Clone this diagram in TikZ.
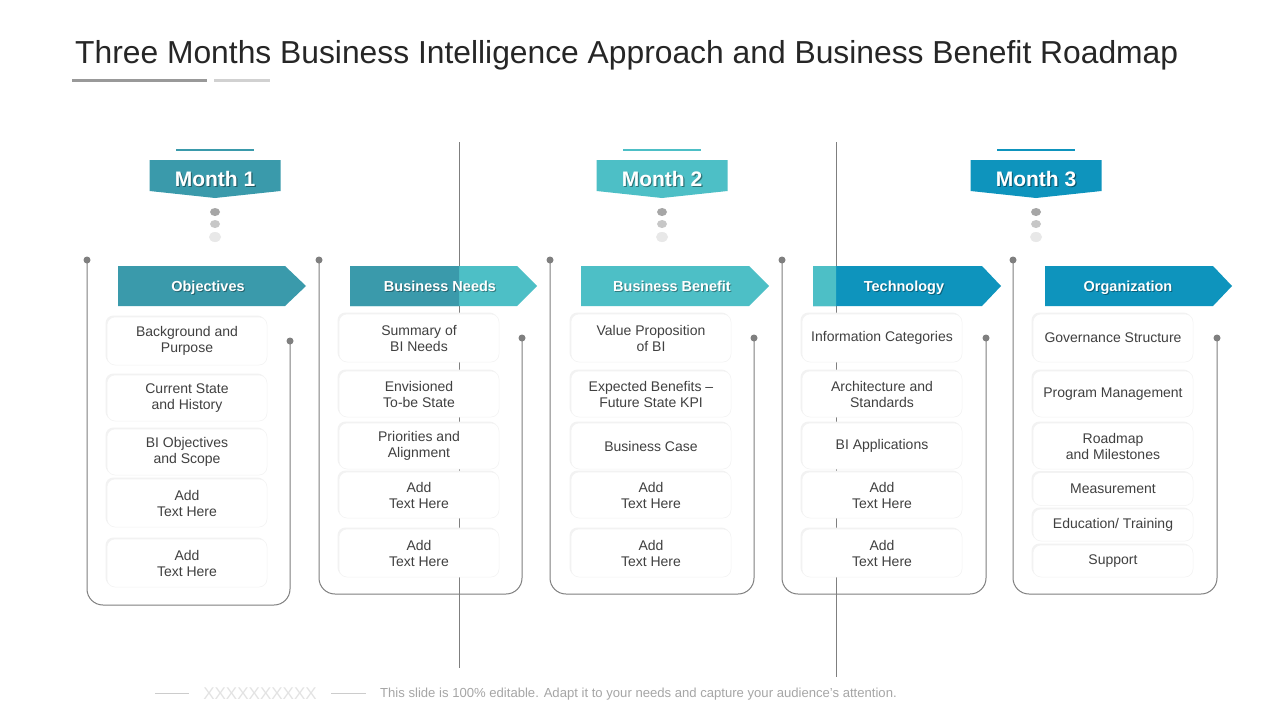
\documentclass[tikz,border=0pt]{standalone}
\usepackage{fontspec}
\setmainfont{Liberation Sans}
\usetikzlibrary{shadows}
\definecolor{tealA}{HTML}{3A9AAB}
\definecolor{tealB}{HTML}{4DBFC6}
\definecolor{blueC}{HTML}{0E94BD}
\definecolor{linegray}{HTML}{7F7F7F}
\definecolor{txt}{HTML}{404040}
\definecolor{titletxt}{HTML}{262626}
\newcommand\ibox[5]{\node[itembox, minimum height=#4] (#1) at (#2,#3) {#5};}
\newcommand\hdrarrow[6]{% name, left, rectright, tip, color, textx
  \fill[#5] (#2,266) -- (#3,266) -- (#4,286) -- (#3,306) -- (#2,306) -- cycle;}
\begin{document}
\begin{tikzpicture}[x=1pt,y=-1pt,
  itembox/.style={rectangle, rounded corners=8pt, fill=white, draw=black!5, line width=0.5pt,
    minimum width=160pt, inner sep=2pt, align=center, font=\fontsize{14}{16}\selectfont, text=txt,
    general shadow={shadow xshift=-1.5pt, shadow yshift=1.5pt, fill=black!5, draw=none}},
  vline/.style={draw=linegray, line width=0.9pt},
  bracket/.style={draw=linegray, line width=1pt, rounded corners=16pt},
  dotn/.style={circle, fill=linegray, inner sep=0pt, minimum size=7pt},
  hdrtxt/.style={font=\fontsize{14.5}{16}\selectfont\bfseries, text=white, anchor=base},
  hdrshadow/.style={font=\fontsize{14.5}{16}\selectfont\bfseries, text=black, opacity=0.35, anchor=base},
  monthtxt/.style={font=\fontsize{21}{24}\selectfont\bfseries, text=white, anchor=base},
  monthshadow/.style={font=\fontsize{21}{24}\selectfont\bfseries, text=black, opacity=0.4, anchor=base},
]
\useasboundingbox[fill=white] (0,0) rectangle (1280,720);

% title
\node[anchor=base west, inner sep=0pt, font=\fontsize{31.8}{36}\selectfont, text=titletxt] (title) at (75,63)
  {Three Months Business Intelligence Approach and Business Benefit Roadmap};
\draw[line width=3pt, draw=black!40] (72,80) -- (207,80);
\draw[line width=3pt, draw=black!18] (214,80) -- (270,80);

% long vertical lines
\coordinate (v1t) at (459,142); \coordinate (v1b) at (459,668);
\coordinate (v2t) at (836,142); \coordinate (v2b) at (836,677);
\draw[vline] (v1t) -- (v1b);
\draw[vline] (v2t) -- (v2b);

% month banners
\foreach \cx/\col/\lab/\nm in {215/tealA/Month 1/m1, 662/tealB/Month 2/m2, 1036/blueC/Month 3/m3}{
  \draw[\col, line width=2pt] (\cx-39,150) -- (\cx+39,150);
  \fill[\col] (\cx-65.5,160) -- (\cx+65.5,160) -- (\cx+65.5,191) -- (\cx,198) -- (\cx-65.5,191) -- cycle;
  \node[monthshadow] (\nm s) at (\cx+1.2,187.2) {\lab};
  \node[monthtxt] (\nm) at (\cx,186) {\lab};
  \fill[black!35] (\cx,212) ellipse (5pt and 4pt);
  \fill[black!22] (\cx,224) ellipse (5pt and 4pt);
  \fill[black!9] (\cx,237) ellipse (6pt and 5pt);
}

% header arrows
\hdrarrow{a1}{118}{285}{306}{tealA}{}
\hdrarrow{a2}{350}{517}{537}{tealB}{}
\begin{scope}
  \clip (340,260) rectangle (459,312);
  \hdrarrow{a2b}{350}{517}{537}{tealA}{}
\end{scope}
\hdrarrow{a3}{581}{749}{769}{tealB}{}
\hdrarrow{a4}{813}{982}{1001}{blueC}{}
\begin{scope}
  \clip (800,260) rectangle (836,312);
  \hdrarrow{a4b}{813}{982}{1001}{tealB}{}
\end{scope}
\hdrarrow{a5}{1045}{1213}{1232}{blueC}{}
\foreach \tx/\lab/\nm in {208/Objectives/h1, 440/Business Needs/h2, 672/Business Benefit/h3, 904/Technology/h4, 1128/Organization/h5}{
  \node[hdrshadow] (\nm s) at (\tx+1,292) {\lab};
  \node[hdrtxt] (\nm) at (\tx,291) {\lab};
}

% brackets
\foreach \l/\r/\b/\ry/\nm in {87/290/605/341/c1, 319/522/594/338/c2, 550/754/594/338/c3, 782/986/594/338/c4, 1013/1217/594/338/c5}{
  \node[dotn] (\nm a) at (\l,260) {};
  \node[dotn] (\nm b) at (\r,\ry) {};
  \draw[bracket] (\nm a.center) -- (\l,\b) -- (\r,\b) -- (\nm b.center);
}

% column 1
\ibox{o1}{187}{341}{48pt}{Background and\\Purpose}
\ibox{o2}{187}{398}{46pt}{Current State\\and History}
\ibox{o3}{187}{452}{46pt}{BI Objectives\\and Scope}
\ibox{o4}{187}{503}{48pt}{Add\\Text Here}
\ibox{o5}{187}{563}{48pt}{Add\\Text Here}
% column 2
\ibox{n1}{419}{338}{48pt}{Summary of\\BI Needs}
\ibox{n2}{419}{394}{46pt}{Envisioned\\To-be State}
\ibox{n3}{419}{446}{46pt}{Priorities and\\Alignment}
\ibox{n4}{419}{495}{46pt}{Add\\Text Here}
\ibox{n5}{419}{553}{48pt}{Add\\Text Here}
% column 3
\ibox{b1}{651}{338}{48pt}{Value Proposition\\of BI}
\ibox{b2}{651}{394}{46pt}{Expected Benefits –\\Future State KPI}
\ibox{b3}{651}{446}{46pt}{Business Case}
\ibox{b4}{651}{495}{46pt}{Add\\Text Here}
\ibox{b5}{651}{553}{48pt}{Add\\Text Here}
% column 4
\ibox{t1}{882}{338}{48pt}{Information Categories}
\ibox{t2}{882}{394}{46pt}{Architecture and\\Standards}
\ibox{t3}{882}{446}{46pt}{BI Applications}
\ibox{t4}{882}{495}{46pt}{Add\\Text Here}
\ibox{t5}{882}{553}{48pt}{Add\\Text Here}
% column 5
\ibox{g1}{1113}{338}{48pt}{Governance Structure}
\ibox{g2}{1113}{394}{46pt}{Program Management}
\ibox{g3}{1113}{446}{46pt}{Roadmap\\and Milestones}
\ibox{g4}{1113}{489}{33pt}{Measurement}
\ibox{g5}{1113}{525}{32pt}{Education/ Training}
\ibox{g6}{1113}{561}{32pt}{Support}

% footer
\draw[black!20, line width=0.6pt] (155,693) -- (189,693);
\node[font=\fontsize{17}{18}\selectfont, text=black!11, inner sep=0pt] (fx) at (260,693.5) {XXXXXXXXXX};
\draw[black!20, line width=0.6pt] (331,693) -- (366,693);
\node[anchor=west, inner sep=0pt, font=\fontsize{13.1}{14}\selectfont, text=black!35] (foot) at (380,694)
  {This slide is 100\% editable. Adapt it to your needs and capture your audience’s attention.};
\end{tikzpicture}
\end{document}
